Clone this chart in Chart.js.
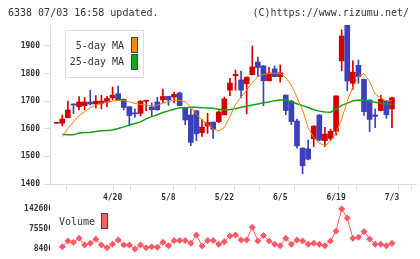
<!DOCTYPE html>
<html>
<head>
<meta charset="utf-8">
<script src="https://cdn.jsdelivr.net/npm/chart.js"></script>
<style>
  body { margin: 0; background: #fff; }
  #wrap { position: relative; width: 420px; height: 259px; overflow: hidden; font-family: 'DejaVu Sans Mono', monospace; color: #333; }
  canvas { position: absolute; left: 0; }
  #main { top: 0; }
  #vol { top: 200px; }
  .txt { position: absolute; font-size: 10px; line-height: 10px; white-space: pre; }
  .box { position: absolute; width: 7px; height: 16px; box-sizing: border-box; border: 1px solid #444; }
  #lg { position: absolute; left: 65px; top: 30px; width: 79px; height: 48px; box-sizing: border-box; border: 1px solid #ddd; background: #fff; }
</style>
</head>
<body>
<div id="wrap">
  <canvas id="main" width="420" height="210"></canvas>
  <canvas id="vol" width="420" height="59"></canvas>
  <div class="txt" style="left:8px;top:8px">6338 07/03 16:58 updated.</div>
  <div class="txt" style="right:11px;top:8px">(C)https://www.rizumu.net/</div>
  <div id="lg"></div>
  <div class="txt" style="left:64px;top:41px;width:60px;text-align:right">5-day MA</div>
  <div class="txt" style="left:64px;top:57px;width:60px;text-align:right">25-day MA</div>
  <div class="box" style="left:131px;top:37px;background:#f08a10"></div>
  <div class="box" style="left:131px;top:54px;background:#12a81e"></div>
  <div class="txt" style="left:59px;top:217px">Volume</div>
  <div class="box" style="left:101px;top:213px;background:#ff6060"></div>
</div>
<script>
// daily candles, oldest first (last one is 7/3)
const open  = [1620,1620,1640,1690,1680,1684,1697,1690,1692,1697,1712,1727,1707,1680,1658,1656,1700,1679,1697,1705,
               1717,1715,1730,1677,1650,1665,1586,1610,1624,1626,1651,1740,1792,1777,1763,1796,1842,1828,1774,1817,
               1789,1722,1700,1628,1530,1527,1564,1650,1557,1565,1591,1846,1976,1765,1830,1779,1704,1650,1666,1701,1672];
const high  = [1620,1650,1700,1690,1717,1713,1740,1720,1722,1718,1751,1755,1708,1680,1672,1702,1701,1694,1714,1744,
               1718,1733,1733,1678,1672,1666,1634,1656,1625,1666,1715,1783,1813,1809,1788,1900,1860,1829,1823,1828,
               1831,1723,1703,1635,1531,1559,1611,1651,1605,1599,1720,1958,1976,1846,1849,1780,1705,1672,1721,1702,1715];
const low   = [1620,1610,1640,1655,1668,1668,1686,1675,1672,1680,1705,1702,1668,1610,1642,1646,1666,1647,1667,1694,
               1685,1694,1683,1615,1539,1557,1572,1583,1565,1622,1650,1720,1740,1713,1654,1795,1789,1684,1773,1788,
               1769,1651,1615,1530,1437,1487,1535,1556,1535,1559,1577,1810,1738,1743,1765,1648,1590,1604,1665,1638,1604];
const close = [1620,1635,1668,1686,1697,1697,1690,1700,1700,1710,1722,1703,1677,1648,1654,1700,1701,1669,1669,1717,
               1705,1725,1684,1632,1551,1582,1606,1623,1598,1661,1708,1766,1797,1740,1787,1824,1822,1774,1802,1789,
               1803,1666,1626,1538,1466,1490,1610,1559,1581,1591,1719,1936,1773,1805,1789,1662,1634,1645,1707,1651,1712];
const ma5   = [null,1572,1600,1625,1648,1662,1677,1684,1692,1697,1700,1703,1703,1697,1692,1688,1686,1684,1685,1693,
               1699,1702,1703,1698,1678,1652,1632,1617,1600,1592,1605,1644,1688,1715,1740,1768,1789,1797,1800,1802,
               1800,1785,1758,1714,1668,1605,1568,1548,1538,1555,1585,1635,1700,1752,1790,1800,1771,1725,1712,1700,1702];
const ma25  = [null,1580,1578,1578,1585,1587,1587,1590,1593,1594,1596,1601,1607,1614,1619,1625,1636,1644,1651,1659,
               1665,1671,1676,1676,1678,1678,1676,1675,1674,1671,1668,1670,1673,1678,1682,1686,1690,1694,1697,1702,
               1704,1704,1698,1691,1684,1677,1669,1664,1661,1660,1671,1685,1693,1701,1704,1703,1699,1696,1692,1690,1688];
const volume = [null,16200,35400,31000,44600,21900,27700,41200,21900,12800,24300,38800,21900,21900,8400,21900,12800,16200,14100,31000,
               19600,36500,36500,36500,27700,55700,18500,36500,36500,24300,33100,52300,55700,38800,38800,81700,35400,53400,35400,24300,
               19600,44600,24300,38800,35400,24300,27700,24300,19600,35400,69200,142600,112200,44600,47900,66900,42200,24300,24300,19600,27700];

const dateLabels = ['4/20', '5/8', '5/22', '6/5', '6/19', '7/3'];
const dateIdx = [10, 20, 30, 40, 50, 60];
const priceTicks = [1400, 1500, 1600, 1700, 1800, 1900];
const volTicks = [8400, 75500, 142600];

const UP = '#d40000', DOWN = '#3c40bd';
const xMin = -1.2, xMax = 64.3;
// tick marks along the bottom axis, evenly spaced
const marks = [];
for (let k = 0; k <= 11; k++) marks.push(xMin + k * 5.778);

Chart.defaults.font.family = "'DejaVu Sans Mono', monospace";
Chart.defaults.color = '#333';

const colors = open.map((o, i) => close[i] >= o ? UP : DOWN);
const pts = arr => arr.map((v, i) => ({ x: i, y: v }));

new Chart(document.getElementById('main'), {
    type: 'bar',
    data: {
        datasets: [
            { type: 'line', data: pts(ma5), borderColor: '#f08200', borderWidth: 1, pointRadius: 0, order: 0 },
            { type: 'line', data: pts(ma25), borderColor: '#16a016', borderWidth: 1.5, pointRadius: 0, order: 1 },
            { data: open.map((o, i) => ({ x: i, y: [o, close[i]] })), backgroundColor: colors,
              barThickness: 5, minBarLength: 1, grouped: false, order: 2 },
            { data: open.map((o, i) => ({ x: i, y: [low[i], high[i]] })), backgroundColor: colors,
              barThickness: 1, grouped: false, order: 3 }
        ]
    },
    options: {
        responsive: false,
        animation: false,
        events: [],
        layout: { padding: { top: 25, right: 4, left: 0, bottom: 0 } },
        plugins: { legend: { display: false }, tooltip: { enabled: false } },
        scales: {
            x: {
                type: 'linear', min: xMin, max: xMax, offset: false,
                afterBuildTicks: ax => {
                    ax.ticks = marks.concat(dateIdx).sort((a, b) => a - b).map(v => ({ value: v }));
                },
                afterFit: ax => { ax.height = 26; },
                grid: {
                    drawOnChartArea: false, tickLength: 6, color: '#ddd',
                    tickColor: ctx => (ctx.tick && dateIdx.includes(ctx.tick.value)) ? 'rgba(0,0,0,0)' : '#ddd'
                },
                border: { color: '#ddd' },
                ticks: {
                    autoSkip: false, maxRotation: 0, padding: 3,
                    font: { size: 8, weight: 'bold' },
                    callback: v => { const k = dateIdx.indexOf(v); return k >= 0 ? dateLabels[k] : ''; }
                }
            },
            y: {
                min: 1400, max: 1976,
                afterBuildTicks: ax => { ax.ticks = priceTicks.map(v => ({ value: v })); },
                afterFit: ax => { ax.width = 50; },
                grid: { drawOnChartArea: false, tickLength: 6, color: '#ddd' },
                border: { color: '#ddd' },
                ticks: { padding: 4, font: { size: 8, weight: 'bold' }, callback: v => String(v) }
            }
        }
    }
});

new Chart(document.getElementById('vol'), {
    type: 'line',
    data: {
        datasets: [{
            data: pts(volume), borderColor: '#ff5a64', backgroundColor: '#ff5a64', borderWidth: 1,
            pointStyle: 'rectRot', pointRadius: 3.5, pointBorderWidth: 0, clip: false
        }]
    },
    options: {
        responsive: false,
        animation: false,
        events: [],
        layout: { padding: { top: 9, right: 4, left: 0, bottom: 10 } },
        plugins: { legend: { display: false }, tooltip: { enabled: false } },
        scales: {
            x: { type: 'linear', min: xMin, max: xMax, display: false },
            y: {
                min: 8400, max: 142600,
                afterBuildTicks: ax => { ax.ticks = volTicks.map(v => ({ value: v })); },
                afterFit: ax => { ax.width = 50; },
                grid: { display: false, drawTicks: false },
                border: { display: false },
                ticks: { padding: -3, font: { size: 8, weight: 'bold' }, callback: v => String(v) }
            }
        }
    }
});
</script>
</body>
</html>
